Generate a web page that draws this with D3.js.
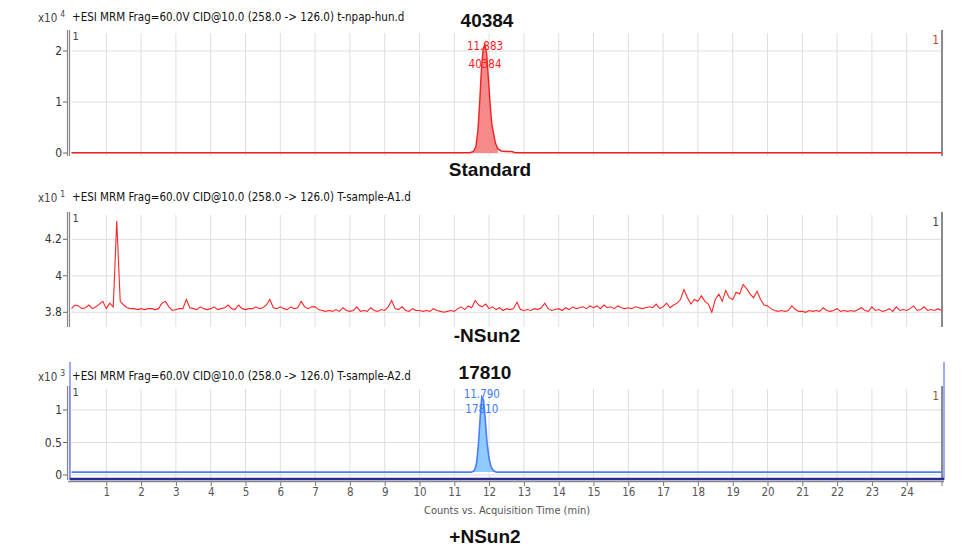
<!DOCTYPE html>
<html>
<head>
<meta charset="utf-8">
<script src="https://cdn.jsdelivr.net/npm/d3@7"></script>
<style>
  body { margin: 0; background: #fff; }
  svg { display: block; }
  .narrow { font-family: "Liberation Sans Narrow", "Arial Narrow", "DejaVu Sans Condensed", sans-serif; }
  .title { font-family: "Liberation Sans", Arial, sans-serif; font-weight: bold; font-size: 19px; fill: #111; text-anchor: middle; }
</style>
</head>
<body>
<script>
// x axis (min)
const xTickLabels = [1,2,3,4,5,6,7,8,9,10,11,12,13,14,15,16,17,18,19,20,21,22,23,24];

// Standard: t-npap-hun.d  (counts x10^4)
const stdTime   = [0, 11.45, 11.55, 11.62, 11.68, 11.73, 11.78, 11.83, 11.88, 11.93, 11.98, 12.03, 12.08, 12.13, 12.18, 12.25, 12.35, 12.5, 12.65, 12.75, 25];
const stdCounts = [0.005, 0.005, 0.03, 0.12, 0.45, 1.0, 1.65, 2.05, 2.12, 1.95, 1.45, 0.95, 0.55, 0.38, 0.2, 0.08, 0.04, 0.03, 0.03, 0.005, 0.005];
const stdYTicks = [0, 1, 2];
const stdPeak = { rt: "11.883", area: "40384", t: 11.883, h: 2.12, from: 11.45, to: 12.3 };

// -NSun2: T-sample-A1.d  (counts x10^1), one value every 0.1 min from 0 to 25
const a1Start = 0, a1Step = 0.1;
const a1Counts = [
  3.82, 3.84, 3.835, 3.82, 3.825, 3.84, 3.82, 3.83, 3.845, 3.86,
  3.82, 3.85, 3.83, 4.30, 3.86, 3.84, 3.825, 3.82, 3.82, 3.815,
  3.82, 3.815, 3.82, 3.82, 3.815, 3.82, 3.85, 3.86, 3.83, 3.81,
  3.815, 3.82, 3.82, 3.87, 3.825, 3.82, 3.815, 3.83, 3.82, 3.815,
  3.82, 3.83, 3.815, 3.82, 3.825, 3.84, 3.82, 3.815, 3.84, 3.82,
  3.815, 3.82, 3.82, 3.83, 3.82, 3.825, 3.84, 3.87, 3.825, 3.82,
  3.83, 3.82, 3.815, 3.83, 3.82, 3.825, 3.86, 3.83, 3.82, 3.83,
  3.83, 3.815, 3.81, 3.805, 3.81, 3.805, 3.815, 3.805, 3.825, 3.81,
  3.805, 3.81, 3.83, 3.805, 3.81, 3.805, 3.825, 3.81, 3.805, 3.815,
  3.81, 3.83, 3.865, 3.82, 3.815, 3.83, 3.81, 3.805, 3.82, 3.81,
  3.81, 3.805, 3.81, 3.805, 3.82, 3.81, 3.805, 3.80, 3.805, 3.81,
  3.805, 3.82, 3.83, 3.815, 3.835, 3.825, 3.865, 3.84, 3.83, 3.845,
  3.82, 3.83, 3.815, 3.825, 3.81, 3.82, 3.815, 3.82, 3.855, 3.815,
  3.81, 3.815, 3.81, 3.82, 3.815, 3.825, 3.85, 3.82, 3.81, 3.815,
  3.82, 3.81, 3.825, 3.815, 3.83, 3.82, 3.825, 3.83, 3.82, 3.835,
  3.825, 3.835, 3.82, 3.84, 3.825, 3.83, 3.82, 3.835, 3.825, 3.82,
  3.825, 3.82, 3.83, 3.825, 3.82, 3.825, 3.83, 3.825, 3.845, 3.82,
  3.83, 3.85, 3.825, 3.84, 3.85, 3.87, 3.925, 3.88, 3.845, 3.87,
  3.86, 3.89, 3.86, 3.845, 3.80, 3.87, 3.90, 3.86, 3.92, 3.88,
  3.87, 3.91, 3.90, 3.952, 3.93, 3.90, 3.88, 3.915, 3.87, 3.84,
  3.835, 3.82, 3.81, 3.805, 3.81, 3.805, 3.81, 3.835, 3.815, 3.805,
  3.805, 3.80, 3.81, 3.805, 3.81, 3.805, 3.825, 3.81, 3.805, 3.81,
  3.82, 3.805, 3.81, 3.805, 3.81, 3.805, 3.815, 3.825, 3.81, 3.805,
  3.83, 3.81, 3.815, 3.805, 3.81, 3.82, 3.805, 3.83, 3.81, 3.815,
  3.81, 3.82, 3.835, 3.81, 3.815, 3.83, 3.81, 3.815, 3.81, 3.82,
  3.81
];
const a1YTicks = [3.8, 4, 4.2];

// +NSun2: T-sample-A2.d  (counts x10^3)
const a2Time   = [0, 11.5, 11.58, 11.64, 11.69, 11.74, 11.79, 11.84, 11.89, 11.94, 12.0, 12.06, 12.12, 12.2, 25];
const a2Counts = [0.045, 0.045, 0.07, 0.18, 0.45, 0.85, 1.2, 1.15, 0.85, 0.5, 0.25, 0.12, 0.07, 0.045, 0.045];
const a2YTicks = [0, 0.5, 1];
const a2Peak = { rt: "11.790", area: "17810", t: 11.79, h: 1.2, from: 11.5, to: 12.2, base: 0.045 };

const headers = [
  "+ESI MRM Frag=60.0V CID@10.0 (258.0 -> 126.0) t-npap-hun.d",
  "+ESI MRM Frag=60.0V CID@10.0 (258.0 -> 126.0) T-sample-A1.d",
  "+ESI MRM Frag=60.0V CID@10.0 (258.0 -> 126.0) T-sample-A2.d"
];
const exponents = ["4", "1", "3"];

const W = 964, H = 556;
const svg = d3.select("body").append("svg").attr("width", W).attr("height", H);

const x = d3.scaleLinear().domain([0, 25]).range([71.5, 941.5]);

// panel layout
const panels = [
  { top: 30, bottom: 156, y: d3.scaleLinear().domain([0, 2]).range([153, 51]), ticks: stdYTicks, headerY: 21, rightOneColor: "#d04040" },
  { top: 212, bottom: 327, y: d3.scaleLinear().domain([3.8, 4.2]).range([312.3, 239.3]), ticks: a1YTicks, headerY: 201, rightOneColor: "#444" },
  { top: 386, bottom: 480, y: d3.scaleLinear().domain([0, 1]).range([475, 410]), ticks: a2YTicks, headerY: 380, rightOneColor: "#8a5a3a" }
];

panels.forEach((p, i) => {
  const g = svg.append("g");
  // grid
  g.selectAll("line.vg").data(xTickLabels).enter().append("line")
    .attr("x1", d => x(d)).attr("x2", d => x(d))
    .attr("y1", p.top + 3).attr("y2", p.bottom)
    .attr("stroke", "#dedede").attr("stroke-width", 1);
  g.selectAll("line.hg").data(p.ticks).enter().append("line")
    .attr("x1", x(0)).attr("x2", x(25))
    .attr("y1", d => p.y(d)).attr("y2", d => p.y(d))
    .attr("stroke", "#dedede").attr("stroke-width", 1);

  // left double axis + right axis
  [67.5, 69.5].forEach(ax => g.append("line")
    .attr("x1", ax).attr("x2", ax).attr("y1", p.top).attr("y2", p.bottom)
    .attr("stroke", "#888").attr("stroke-width", 1.2));
  g.append("line").attr("x1", 942).attr("x2", 942).attr("y1", p.top).attr("y2", p.bottom)
    .attr("stroke", "#8a8a8a").attr("stroke-width", 2);

  // y ticks
  g.selectAll("line.yt").data(p.ticks).enter().append("line")
    .attr("x1", 63).attr("x2", 67).attr("y1", d => p.y(d)).attr("y2", d => p.y(d))
    .attr("stroke", "#666");
  g.selectAll("text.yl").data(p.ticks).enter().append("text")
    .attr("class", "narrow")
    .attr("x", 62).attr("y", d => p.y(d) + 4)
    .attr("text-anchor", "end").attr("font-size", 12).attr("fill", "#333")
    .text(d => d3.format("~g")(d));

  // headers
  const xt = g.append("text").attr("class", "narrow").attr("x", 38).attr("y", p.headerY + 1)
    .attr("font-size", 11.5).attr("fill", "#444");
  xt.append("tspan").text("x10");
  xt.append("tspan").attr("dx", 3).attr("dy", -5).attr("font-size", 8.5).text(exponents[i]);
  g.append("text").attr("class", "narrow").attr("x", 72).attr("y", p.headerY)
    .attr("font-size", 11.5).attr("fill", "#111").text(headers[i]);

  // "1" markers
  g.append("text").attr("class", "narrow").attr("x", 72.5).attr("y", p.top + 10)
    .attr("font-size", 11).attr("fill", "#444").text("1");
  g.append("text").attr("class", "narrow").attr("x", 939).attr("y", p.top + 14)
    .attr("text-anchor", "end").attr("font-size", 12).attr("fill", p.rightOneColor).text("1");
});

const line = y => d3.line().x(d => x(d[0])).y(d => y(d[1]));

// --- Standard panel
{
  const p = panels[0];
  const pts = stdTime.map((t, i) => [t, stdCounts[i]]);
  const peakPts = pts.filter(d => d[0] >= stdPeak.from && d[0] <= stdPeak.to);
  svg.append("path").datum(peakPts)
    .attr("d", d3.area().x(d => x(d[0])).y0(p.y(0)).y1(d => p.y(d[1])))
    .attr("fill", "#f58a8a");
  svg.append("path").datum(pts).attr("d", line(p.y)(pts))
    .attr("fill", "none").attr("stroke", "#f02020").attr("stroke-width", 1.4);
  const ay = p.y(stdPeak.h);
  svg.append("text").attr("class", "narrow").attr("x", x(stdPeak.t)).attr("y", ay + 5)
    .attr("text-anchor", "middle").attr("font-size", 11.5).attr("fill", "#ff2020").text(stdPeak.rt);
  svg.append("text").attr("class", "narrow").attr("x", x(stdPeak.t)).attr("y", ay + 23)
    .attr("text-anchor", "middle").attr("font-size", 11.5).attr("fill", "#ff2020").text(stdPeak.area);
}

// --- -NSun2 panel
{
  const p = panels[1];
  const pts = a1Counts.map((v, i) => [a1Start + i * a1Step, v]);
  svg.append("path").attr("d", line(p.y)(pts))
    .attr("fill", "none").attr("stroke", "#ff2525").attr("stroke-width", 1.1);
}

// --- +NSun2 panel
{
  const p = panels[2];
  // selection frame
  [70, 944].forEach(fx => svg.append("line")
    .attr("x1", fx).attr("x2", fx).attr("y1", 362).attr("y2", 480)
    .attr("stroke", "#7f8ff0").attr("stroke-width", 1.5));
  const pts = a2Time.map((t, i) => [t, a2Counts[i]]);
  const peakPts = pts.filter(d => d[0] >= a2Peak.from && d[0] <= a2Peak.to);
  svg.append("path").datum(peakPts)
    .attr("d", d3.area().x(d => x(d[0])).y0(p.y(a2Peak.base)).y1(d => p.y(d[1])))
    .attr("fill", "#8fcbff");
  svg.append("path").attr("d", line(p.y)(pts))
    .attr("fill", "none").attr("stroke", "#4a7cff").attr("stroke-width", 1.6);
  // bottom axis
  svg.append("line").attr("x1", 68).attr("x2", 944).attr("y1", 481.5).attr("y2", 481.5)
    .attr("stroke", "#888").attr("stroke-width", 1.5);
  svg.append("line").attr("x1", 70).attr("x2", 944).attr("y1", 479).attr("y2", 479)
    .attr("stroke", "#2b2b94").attr("stroke-width", 2.5);
  const ay = p.y(a2Peak.h);
  svg.append("text").attr("class", "narrow").attr("x", x(a2Peak.t)).attr("y", ay + 1)
    .attr("text-anchor", "middle").attr("font-size", 11.5).attr("fill", "#3b7dff").text(a2Peak.rt);
  svg.append("text").attr("class", "narrow").attr("x", x(a2Peak.t)).attr("y", ay + 16)
    .attr("text-anchor", "middle").attr("font-size", 11.5).attr("fill", "#3b7dff").text(a2Peak.area);

  const xAxis = d3.axisBottom(x).tickValues(xTickLabels.concat([25])).tickSize(4)
    .tickFormat(d => xTickLabels.includes(d) ? d : "");
  const ag = svg.append("g").attr("transform", "translate(0,482)").call(xAxis);
  ag.select(".domain").remove();
  ag.selectAll("line").attr("stroke", "#777");
  ag.selectAll("text").attr("class", "narrow").attr("font-size", 11.5).attr("fill", "#555")
    .attr("y", 6).attr("dy", "0.71em");
  svg.append("text").attr("class", "narrow").attr("x", 507).attr("y", 514)
    .attr("text-anchor", "middle").attr("font-size", 11).attr("fill", "#555")
    .text("Counts vs. Acquisition Time (min)");
}

// sample titles
const titles = [
  { text: "40384", x: 487, y: 27 },
  { text: "Standard", x: 490, y: 176 },
  { text: "-NSun2", x: 487, y: 342 },
  { text: "17810", x: 485, y: 379 },
  { text: "+NSun2", x: 485, y: 543 }
];
svg.selectAll("text.title").data(titles).enter().append("text")
  .attr("class", "title").attr("x", d => d.x).attr("y", d => d.y).text(d => d.text);
</script>
</body>
</html>
